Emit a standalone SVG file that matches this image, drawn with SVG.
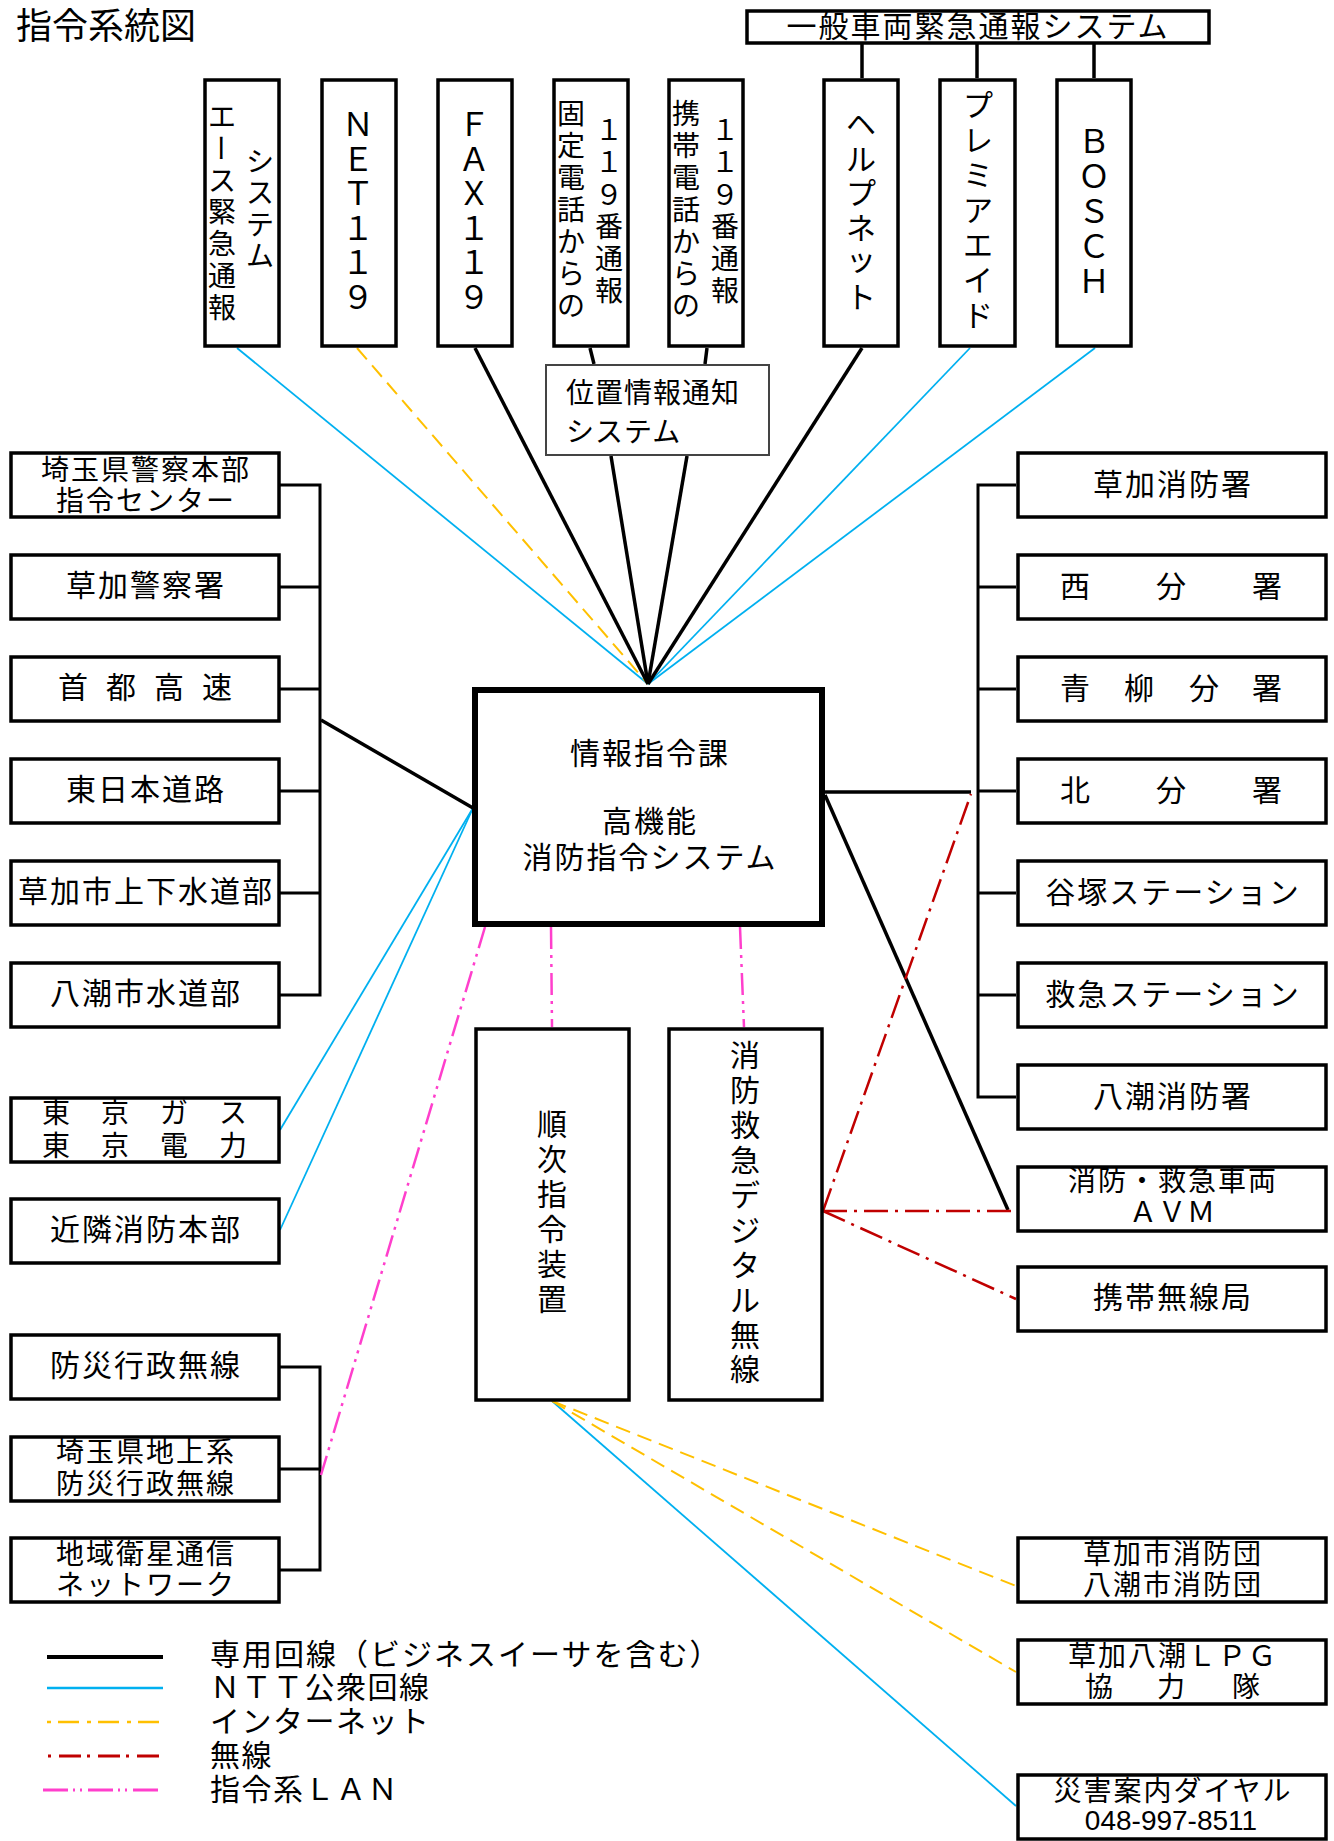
<svg xmlns="http://www.w3.org/2000/svg" width="1334" height="1841" viewBox="0 0 1334 1841">
<style>
.b{fill:#fff;stroke:#000;stroke-width:3.5}
.t{font-family:"Noto Sans CJK JP","Noto Sans CJK SC",sans-serif;fill:#000;text-anchor:middle;dominant-baseline:central;transform:translateY(-3px)}
.u{font-family:"Noto Sans CJK JP","Noto Sans CJK SC",sans-serif;fill:#000;text-anchor:middle;dominant-baseline:central}
.s{text-anchor:start}
.f28{font-size:28px;letter-spacing:2px}
.f30{font-size:30px;letter-spacing:2px}
.v28{font-size:28px}
.v30{font-size:30px}
.v32{font-size:32px}
.k{fill:none;stroke:#000;stroke-width:3.5}
.br{fill:none;stroke:#000;stroke-width:3}
.c{fill:none;stroke:#00b0f0;stroke-width:1.8}
.y{fill:none;stroke:#ffc000;stroke-width:2;stroke-dasharray:15 8}
.r{fill:none;stroke:#c00000;stroke-width:2.5;stroke-dasharray:24 7 3 7}
.m{fill:none;stroke:#ff3fcc;stroke-width:2.5;stroke-dasharray:22 6 3 6 3 6}
</style>
<rect width="1334" height="1841" fill="#fff"/>
<text class="t s" x="16" y="26" style="font-size:36px">指令系統図</text>

<g id="connectors">
<line class="c" x1="237" y1="348" x2="648" y2="684"/>
<line class="c" x1="970" y1="348" x2="648" y2="684"/>
<line class="c" x1="1095" y1="348" x2="648" y2="684"/>
<line class="c" x1="473" y1="808" x2="280" y2="1130"/>
<line class="c" x1="473" y1="808" x2="280" y2="1230"/>
<line class="c" x1="552" y1="1401" x2="1016" y2="1806"/>
<line class="y" x1="357" y1="348" x2="648" y2="684"/>
<line class="y" x1="552" y1="1401" x2="1016" y2="1586"/>
<line class="y" x1="552" y1="1401" x2="1016" y2="1672"/>
<line class="k" x1="475" y1="348" x2="648" y2="684"/>
<line class="k" x1="611" y1="456" x2="648" y2="684"/>
<line class="k" x1="687" y1="456" x2="648" y2="684"/>
<line class="k" x1="862" y1="348" x2="648" y2="684"/>
<line class="k" x1="590" y1="348" x2="594" y2="364"/>
<line class="k" x1="707" y1="348" x2="705" y2="364"/>
<line class="k" x1="862" y1="44" x2="862" y2="78"/>
<line class="k" x1="977" y1="44" x2="977" y2="78"/>
<line class="k" x1="1094" y1="44" x2="1094" y2="78"/>
<line class="k" x1="321" y1="720" x2="473" y2="808"/>
<line class="k" x1="825" y1="792" x2="971" y2="792"/>
<line class="k" x1="825" y1="795" x2="1008" y2="1210"/>
<path class="br" d="M280 485H320V995H280M280 587H320M280 689H320M280 791H320M280 893H320"/>
<path class="br" d="M280 1367H320V1570H280M280 1469H320"/>
<path class="br" d="M1016 485H978V1097H1016M978 587H1016M978 689H1016M978 791H1016M978 893H1016M978 995H1016"/>
<line class="r" x1="823" y1="1211" x2="971" y2="794"/>
<line class="r" x1="823" y1="1211" x2="1016" y2="1211"/>
<line class="r" x1="823" y1="1211" x2="1016" y2="1299"/>
<line class="m" x1="485" y1="927" x2="321" y2="1475"/>
<line class="m" x1="551" y1="927" x2="552" y2="1027"/>
<line class="m" x1="740" y1="927" x2="744" y2="1027"/>
</g>

<g id="top-general">
<rect class="b" x="747" y="11" width="462" height="32"/>
<text class="t f30" x="978" y="27">一般車両緊急通報システム</text>
</g>
<g id="top-ace">
<rect class="b" x="205" y="80" width="74" height="266"/>
<text class="t v28" x="222 222 222 222 222 222" y="118 182 213 245 277 309">エス緊急通報</text>
<text class="u v28" x="222" y="148" transform="rotate(90 222 148)">ー</text>
<text class="t v28" x="260 260 260 260" y="163 194 226 257">システム</text>
</g>
<g id="top-net119">
<rect class="b" x="322" y="80" width="74" height="266"/>
<text class="t v32" x="358 358 358 358 358 358" y="125 160 194 229 263 298">ＮＥＴ１１９</text>
</g>
<g id="top-fax119">
<rect class="b" x="438" y="80" width="74" height="266"/>
<text class="t v32" x="474 474 474 474 474 474" y="125 160 194 229 263 298">ＦＡＸ１１９</text>
</g>
<g id="top-fixed">
<rect class="b" x="554" y="80" width="74" height="266"/>
<text class="t v28" x="571 571 571 571 571 571 571" y="115 147 179 211 243 275 307">固定電話からの</text>
<text class="t v28" x="609 609 609 609 609 609" y="131 163 196 228 260 292">１１９番通報</text>
</g>
<g id="top-mobile">
<rect class="b" x="669" y="80" width="74" height="266"/>
<text class="t v28" x="686 686 686 686 686 686 686" y="115 147 179 211 243 275 307">携帯電話からの</text>
<text class="t v28" x="725 725 725 725 725 725" y="131 163 196 228 260 292">１１９番通報</text>
</g>
<g id="top-helpnet">
<rect class="b" x="824" y="80" width="74" height="266"/>
<text class="t v30" x="861 861 861 861 861 861" y="125 160 194 229 260 298">ヘルプネット</text>
</g>
<g id="top-premiaid">
<rect class="b" x="940" y="80" width="75" height="266"/>
<text class="t v30" x="978 978 978 978 978 978 978" y="106 141 176 211 246 281 316">プレミアエイド</text>
</g>
<g id="top-bosch">
<rect class="b" x="1057" y="80" width="74" height="266"/>
<text class="t v32" x="1094 1094 1094 1094 1094" y="142 177 212 247 282">ＢＯＳＣＨ</text>
</g>
<g id="position">
<rect x="546" y="365" width="223" height="90" fill="#fff" stroke="#444" stroke-width="2"/>
<text class="t s" x="566" y="394" style="font-size:28px;letter-spacing:1px">位置情報通知</text>
<text class="t s" x="566" y="433" style="font-size:28px;letter-spacing:1px">システム</text>
</g>

<g id="main">
<rect x="475" y="690" width="347" height="234" fill="#fff" stroke="#000" stroke-width="6"/>
<text class="t f30" x="650" y="754">情報指令課</text>
<text class="t f30" x="650" y="822">高機能</text>
<text class="t f30" x="650" y="858">消防指令システム</text>
</g>

<g id="left-police-hq"><rect class="b" x="11" y="453" width="268" height="64"/>
<text class="u f28" x="146" y="468">埼玉県警察本部</text><text class="u f28" x="146" y="499">指令センター</text></g>
<g id="left-soka-police"><rect class="b" x="11" y="555" width="268" height="64"/>
<text class="t f30" x="146" y="586">草加警察署</text></g>
<g id="left-shuto"><rect class="b" x="11" y="657" width="268" height="64"/>
<text class="t v30" x="73 121 169 217" y="688 688 688 688">首都高速</text></g>
<g id="left-nexco"><rect class="b" x="11" y="759" width="268" height="64"/>
<text class="t f30" x="146" y="790">東日本道路</text></g>
<g id="left-soka-water"><rect class="b" x="11" y="861" width="268" height="64"/>
<text class="t f30" x="146" y="892">草加市上下水道部</text></g>
<g id="left-yashio-water"><rect class="b" x="11" y="963" width="268" height="64"/>
<text class="t f30" x="146" y="994">八潮市水道部</text></g>
<g id="left-gas"><rect class="b" x="11" y="1098" width="268" height="64"/>
<text class="u v28" x="56 115 174 233" y="1111 1111 1111 1111">東京ガス</text>
<text class="u v28" x="56 115 174 233" y="1144 1144 1144 1144">東京電力</text></g>
<g id="left-neighbor"><rect class="b" x="11" y="1199" width="268" height="64"/>
<text class="t f30" x="146" y="1230">近隣消防本部</text></g>
<g id="left-bosai"><rect class="b" x="11" y="1335" width="268" height="64"/>
<text class="t f30" x="146" y="1366">防災行政無線</text></g>
<g id="left-saitama-bosai"><rect class="b" x="11" y="1437" width="268" height="64"/>
<text class="t f28" x="146" y="1453">埼玉県地上系</text><text class="t f28" x="146" y="1485">防災行政無線</text></g>
<g id="left-satellite"><rect class="b" x="11" y="1538" width="268" height="64"/>
<text class="t f28" x="146" y="1555">地域衛星通信</text><text class="t f28" x="146" y="1586">ネットワーク</text></g>

<g id="seq"><rect class="b" x="476" y="1029" width="153" height="371"/>
<text class="t v30" x="552 552 552 552 552 552" y="1125 1160 1195 1230 1265 1300">順次指令装置</text></g>
<g id="digital"><rect class="b" x="669" y="1029" width="153" height="371"/>
<text class="t v30" x="745 745 745 745 745 745 745 745 745 745" y="1056 1091 1126 1161 1196 1231 1266 1301 1336 1370">消防救急デジタル無線</text></g>

<g id="right-soka-fd"><rect class="b" x="1018" y="453" width="308" height="64"/>
<text class="t f30" x="1173" y="485">草加消防署</text></g>
<g id="right-nishi"><rect class="b" x="1018" y="555" width="308" height="64"/>
<text class="t v30" x="1075 1171 1267" y="587 587 587">西分署</text></g>
<g id="right-aoyagi"><rect class="b" x="1018" y="657" width="308" height="64"/>
<text class="t v30" x="1075 1139 1204 1267" y="689 689 689 689">青柳分署</text></g>
<g id="right-kita"><rect class="b" x="1018" y="759" width="308" height="64"/>
<text class="t v30" x="1075 1171 1267" y="791 791 791">北分署</text></g>
<g id="right-yatsuka"><rect class="b" x="1018" y="861" width="308" height="64"/>
<text class="t f30" x="1173" y="893">谷塚ステーション</text></g>
<g id="right-kyukyu"><rect class="b" x="1018" y="963" width="308" height="64"/>
<text class="t f30" x="1173" y="995">救急ステーション</text></g>
<g id="right-yashio-fd"><rect class="b" x="1018" y="1065" width="308" height="64"/>
<text class="t f30" x="1173" y="1097">八潮消防署</text></g>
<g id="right-avm"><rect class="b" x="1018" y="1167" width="308" height="64"/>
<text class="t f28" x="1173" y="1182">消防・救急車両</text>
<text class="t v28" x="1143 1172 1201" y="1213 1213 1213">ＡＶＭ</text></g>
<g id="right-portable"><rect class="b" x="1018" y="1267" width="308" height="64"/>
<text class="t f30" x="1173" y="1298">携帯無線局</text></g>
<g id="right-shobodan"><rect class="b" x="1018" y="1538" width="308" height="64"/>
<text class="t f28" x="1173" y="1555">草加市消防団</text><text class="t f28" x="1173" y="1586">八潮市消防団</text></g>
<g id="right-lpg"><rect class="b" x="1018" y="1640" width="308" height="64"/>
<text class="t f28" x="1173" y="1657">草加八潮ＬＰＧ</text>
<text class="t v28" x="1099 1171 1246" y="1688 1688 1688">協力隊</text></g>
<g id="right-dial"><rect class="b" x="1018" y="1775" width="308" height="64"/>
<text class="t f28" x="1173" y="1792">災害案内ダイヤル</text>
<text class="t" x="1171" y="1823" style="font-family:'Liberation Sans',sans-serif;font-size:28px">048-997-8511</text></g>

<g id="legend">
<line x1="47" y1="1657" x2="163" y2="1657" stroke="#000" stroke-width="4"/>
<line x1="47" y1="1688" x2="163" y2="1688" stroke="#00b0f0" stroke-width="2.5"/>
<line x1="47" y1="1722" x2="160" y2="1722" stroke="#ffc000" stroke-width="2.5" stroke-dasharray="4 7 21 8"/>
<line x1="48" y1="1756" x2="160" y2="1756" stroke="#c00000" stroke-width="3" stroke-dasharray="3 8 22 6"/>
<line x1="43" y1="1790" x2="160" y2="1790" stroke="#ff3fcc" stroke-width="3" stroke-dasharray="25 5 2 5 2 6"/>
<text class="t s" x="210" y="1655" style="font-size:30px;letter-spacing:2px">専用回線（ビジネスイーサを含む）</text>
<text class="t s" x="210" y="1688" style="font-size:30px;letter-spacing:1.5px">ＮＴＴ公衆回線</text>
<text class="t s" x="210" y="1722" style="font-size:30px;letter-spacing:1.5px">インターネット</text>
<text class="t s" x="210" y="1756" style="font-size:30px;letter-spacing:1.5px">無線</text>
<text class="t s" x="210" y="1790" style="font-size:30px;letter-spacing:1.5px">指令系ＬＡＮ</text>
</g>
</svg>
